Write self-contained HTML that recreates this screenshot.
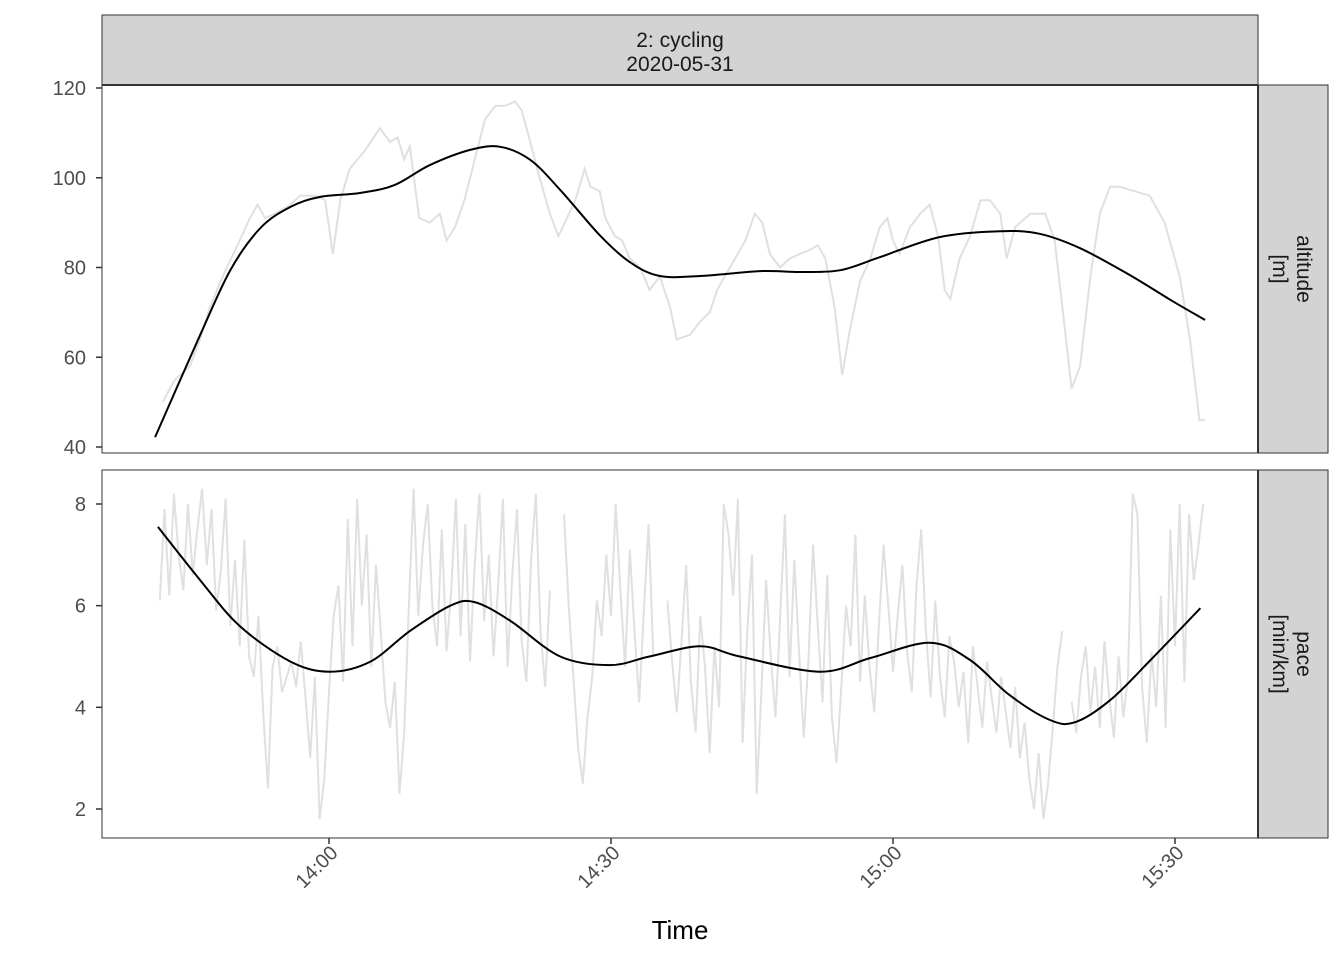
<!DOCTYPE html>
<html><head><meta charset="utf-8"><style>
html,body{margin:0;padding:0;background:#fff;}
svg text{font-family:"Liberation Sans",Arial,sans-serif;}
</style></head><body>
<svg id="chart" width="1344" height="960" xmlns="http://www.w3.org/2000/svg">
<g id="g"></g>
</svg>
<script>
const altTimes=[42.3,43.6,45.2,46.3,47.3,48.9,50.5,51.6,52.4,53.2,54.3,55.9,56.9,58.5,59.6,60.4,61.2,62.2,63.8,65.4,66.5,67.3,68.0,68.6,69.6,70.7,71.8,72.5,73.4,74.4,75.5,76.6,77.7,78.7,79.8,80.5,81.4,82.4,83.5,84.4,85.1,86.2,87.2,87.8,88.8,89.4,90.4,91.2,92.0,93.1,94.1,95.2,96.3,97.0,98.4,99.5,100.5,101.3,102.1,103.2,104.3,105.3,106.1,106.9,108.0,109.0,110.1,111.2,112.0,112.8,113.8,114.6,115.4,116.5,117.6,118.6,119.4,120.0,120.7,121.8,122.9,123.9,124.8,125.5,126.1,127.1,128.2,129.3,130.3,131.4,132.1,133.0,134.6,136.2,137.2,138.3,139.0,139.9,141.0,142.0,143.1,144.1,145.7,147.3,148.9,150.5,151.6,152.6,153.2];
const altValues=[50,55,58,64,71,79,86,91,94,91,92,94,96,96,95,83,95,102,106,111,108,109,104,107,91,90,92,86,89,95,104,113,116,116,117,115,108,100,92,87,90,95,102,98,97,91,87,86,82,80,75,78,71,64,65,68,70,75,78,82,86,92,90,83,80,82,83,84,85,82,71,56,66,77,82,89,91,86,83,89,92,94,87,75,73,82,87,95,95,92,82,89,92,92,86,66,53,58,78,92,98,98,97,96,90,78,64,46,46];
const altSmoothTimes=[41.5,46.3,49.5,52.7,55.9,59.0,63.3,67.0,70.7,75.0,78.2,81.4,84.6,88.8,92.0,95.2,99.5,105.9,110.1,114.4,118.6,125.0,131.4,135.6,139.9,145.2,149.5,153.2];
const altSmoothValues=[42.2,65,79.4,88.8,93.5,95.7,96.6,98.4,102.8,106.2,106.9,104,97.3,87.2,81.2,78.1,78.1,79.2,79,79.4,82.3,86.8,88.1,87.5,84.3,78.3,72.8,68.3];
const paceStart=42, paceStep=0.5;
const paceValues=[6.1,7.9,6.2,8.2,7.0,6.3,8.0,6.6,7.5,8.3,
6.8,7.9,5.9,6.7,8.1,5.6,6.9,5.2,7.3,5.0,
4.6,5.8,3.9,2.4,4.8,5.2,4.3,4.6,4.9,4.4,
5.3,4.2,3.0,4.6,1.8,2.6,4.3,5.8,6.4,4.5,
7.7,5.2,8.1,6.0,7.4,4.8,6.8,5.5,4.1,3.6,
4.5,2.3,3.5,6.0,8.3,5.8,7.2,8.0,6.0,5.2,
7.5,5.1,6.3,8.1,5.4,7.6,4.9,6.8,8.2,5.7,
7.0,5.0,6.4,8.1,4.8,6.6,7.9,5.3,4.5,6.9,
8.2,5.5,4.4,6.3,null,null,7.8,6.0,4.6,3.2,
2.5,3.8,4.6,6.1,5.4,7.0,5.8,8.0,6.3,4.8,
7.1,5.5,4.1,5.9,7.6,5.0,null,null,6.1,4.9,
3.9,5.3,6.8,4.5,3.5,5.8,4.8,3.1,5.2,4.0,
8.0,7.4,6.2,8.1,3.3,5.5,7.0,2.3,4.3,6.5,
5.0,3.8,5.8,7.8,4.6,6.9,5.1,3.4,4.9,7.2,
5.6,4.1,6.6,3.8,2.9,4.4,6.0,5.2,7.4,4.5,
6.2,4.8,3.9,5.6,7.2,6.0,4.7,5.8,6.8,5.1,
4.3,6.4,7.5,5.5,4.2,6.1,4.6,3.8,5.4,4.9,
4.0,4.7,3.3,5.2,4.4,3.6,4.9,4.2,3.5,4.6,
3.9,3.2,4.4,3.0,3.7,2.6,2.0,3.1,1.8,2.5,
3.6,4.8,5.5,null,4.1,3.5,4.6,5.2,3.9,4.8,
3.6,5.3,4.2,3.4,5.0,3.8,4.6,8.2,7.8,4.4,
3.3,5.1,4.0,6.2,3.6,7.5,5.2,8.0,4.5,7.8,
6.5,7.2,8.0];
const paceSmoothTimes=[41.8,46.3,50.5,55.9,60.1,64.4,68.6,72.9,75.5,79.3,84.6,89.9,94.1,99.5,103.7,112.2,117.6,123.9,128.2,132.4,136.7,139.4,143.1,147.4,152.7];
const paceSmoothValues=[7.55,6.5,5.6,4.9,4.7,4.9,5.5,6.0,6.07,5.7,5.0,4.83,5.0,5.2,5.0,4.7,4.97,5.27,4.93,4.24,3.75,3.71,4.14,4.93,5.95];
const xTickVals=[60,90,120,150];
const xTickLabels=["14:00","14:30","15:00","15:30"];
const altTicks=[40,60,80,100,120];
const paceTicks=[2,4,6,8];

const NS="http://www.w3.org/2000/svg";
const g=document.getElementById('g');
function el(tag,attrs,parent){const e=document.createElementNS(NS,tag);for(const k in attrs)e.setAttribute(k,attrs[k]);(parent||g).appendChild(e);return e;}
const X=t=>329+(t-60)*9.4;
const yAlt=v=>447-(v-40)*4.4875;
const yPace=v=>504+(8-v)*50.83;
function path(ts,vs,fx,fy){let d="",pen=false;for(let i=0;i<vs.length;i++){if(vs[i]==null){pen=false;continue;}d+=(pen?"L":"M")+fx(ts[i]).toFixed(1)+","+fy(vs[i]).toFixed(1);pen=true;}return d;}
function smoothPath(ts,vs,fx,fy){
  const p=ts.map((t,i)=>[fx(t),fy(vs[i])]);
  let d="M"+p[0][0].toFixed(1)+","+p[0][1].toFixed(1);
  for(let i=0;i<p.length-1;i++){
    const p0=p[Math.max(0,i-1)],p1=p[i],p2=p[i+1],p3=p[Math.min(p.length-1,i+2)];
    const c1=[p1[0]+(p2[0]-p0[0])/6,p1[1]+(p2[1]-p0[1])/6];
    const c2=[p2[0]-(p3[0]-p1[0])/6,p2[1]-(p3[1]-p1[1])/6];
    d+="C"+c1.map(v=>v.toFixed(1)).join(",")+" "+c2.map(v=>v.toFixed(1)).join(",")+" "+p2.map(v=>v.toFixed(1)).join(",");
  }
  return d;
}

let s=el('rect',{x:102,y:15,width:1156,height:70,fill:'#d3d3d3',stroke:'#333','stroke-width':1});

let t1=el('text',{x:680,y:47,'text-anchor':'middle','font-size':21,fill:'#1a1a1a'});t1.textContent='2: cycling';

let t2=el('text',{x:680,y:71,'text-anchor':'middle','font-size':21,fill:'#1a1a1a'});t2.textContent='2020-05-31';


function panel(name,y0,h,ticks,fy,lab1,lab2,ts,vs,sts,svs){
  const r=el('rect',{x:102,y:y0,width:1156,height:h,fill:'#fff',stroke:'#333','stroke-width':1});
  
  const raw=el('path',{d:path(ts,vs,X,fy),fill:'none',stroke:'#e0e0e0','stroke-width':2});
  
  const sm=el('path',{d:smoothPath(sts,svs,X,fy),fill:'none',stroke:'#000','stroke-width':2});
  
  ticks.forEach(v=>{const y=fy(v);
    el('line',{x1:96,x2:102,y1:y,y2:y,stroke:'#333','stroke-width':1.5});
    const tt=el('text',{x:86,y:y+7,'text-anchor':'end','font-size':20,fill:'#4d4d4d'});tt.textContent=v;
    });
  const st=el('rect',{x:1258,y:y0,width:70,height:h,fill:'#d3d3d3',stroke:'#333','stroke-width':1});
  
  el('line',{x1:1258,x2:1258,y1:y0,y2:y0+h,stroke:'#333','stroke-width':2});
  const cy=y0+h/2;
  const a=el('text',{x:0,y:0,'text-anchor':'middle','font-size':21,fill:'#1a1a1a',transform:`translate(1297,${cy}) rotate(90)`});a.textContent=lab1;
  
  const b=el('text',{x:0,y:0,'text-anchor':'middle','font-size':21,fill:'#1a1a1a',transform:`translate(1273,${cy}) rotate(90)`});b.textContent=lab2;
  
}
const paceTimes=paceValues.map((v,i)=>paceStart+i*paceStep);
panel('altitude',85,368,altTicks,yAlt,'altitude','[m]',altTimes,altValues,altSmoothTimes,altSmoothValues);
panel('pace',470,368,paceTicks,yPace,'pace','[min/km]',paceTimes,paceValues,paceSmoothTimes,paceSmoothValues);
el('line',{x1:102,x2:1258,y1:85,y2:85,stroke:'#333','stroke-width':2});

xTickVals.forEach((v,i)=>{const x=X(v);
  el('line',{x1:x,x2:x,y1:838,y2:844,stroke:'#333','stroke-width':1.5});
  const tt=el('text',{x:0,y:0,'text-anchor':'end','font-size':20,fill:'#4d4d4d',transform:`translate(${x+10},${854}) rotate(-45)`});tt.textContent=xTickLabels[i];
  });
const xt=el('text',{x:680,y:939,'text-anchor':'middle','font-size':26,fill:'#000'});xt.textContent='Time';

</script>
</body></html>
